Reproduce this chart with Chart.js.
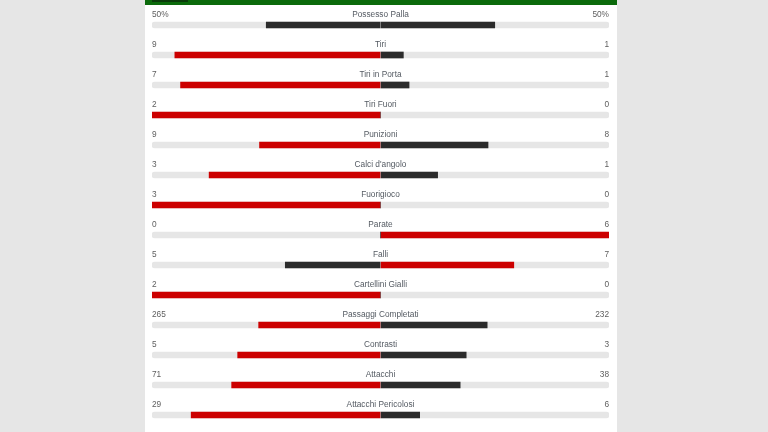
<!DOCTYPE html>
<html>
<head>
<meta charset="utf-8">
<script src="https://cdn.jsdelivr.net/npm/chart.js@4.4.1/dist/chart.umd.min.js"></script>
<style>
  body { margin: 0; background: #e6e6e6; font-family: "Liberation Sans", Arial, sans-serif; }
  #panel { position: absolute; left: 145px; top: 0; width: 472px; height: 432px; background: #fff; }
  #topbar { position: absolute; left: 0; top: 0; width: 472px; height: 5px; background: #0b6a0b; }
  #tab { position: absolute; left: 7px; top: 0; width: 36px; height: 2px; background: #0a3b0a; }
  #wrap { position: absolute; left: 0; top: 0; width: 472px; height: 432px; }
</style>
</head>
<body>
<div id="panel">
  <div id="topbar"><div id="tab"></div></div>
  <div id="wrap"><canvas id="stats"></canvas></div>
</div>
<script>
const categories = ['Possesso Palla', 'Tiri', 'Tiri in Porta', 'Tiri Fuori', 'Punizioni', "Calci d'angolo",
  'Fuorigioco', 'Parate', 'Falli', 'Cartellini Gialli', 'Passaggi Completati', 'Contrasti', 'Attacchi', 'Attacchi Pericolosi'];
const homeValues = [50, 9, 7, 2, 9, 3, 3, 0, 5, 2, 265, 5, 71, 29];
const awayValues = [50, 1, 1, 0, 8, 1, 0, 6, 7, 0, 232, 3, 38, 6];
const units = ['%', '', '', '', '', '', '', '', '', '', '', '', '', ''];

const RED = '#cc0000';
const DARK = '#2b2b2b';

// share of each side, left side goes negative
const homeShare = homeValues.map((h, i) => {
  const tot = h + awayValues[i];
  return tot ? -h / tot : 0;
});
const awayShare = awayValues.map((a, i) => {
  const tot = homeValues[i] + a;
  return tot ? a / tot : 0;
});
const homeColors = homeValues.map((h, i) => h > awayValues[i] ? RED : DARK);
const awayColors = awayValues.map((a, i) => a > homeValues[i] ? RED : DARK);

const textPlugin = {
  id: 'statText',
  afterDatasetsDraw(chart) {
    const { ctx, chartArea, scales } = chart;
    const cx = scales.x.getPixelForValue(0);
    ctx.save();
    ctx.font = '8.3px "Liberation Sans", Arial, sans-serif';
    ctx.textBaseline = 'middle';
    categories.forEach((name, i) => {
      const y = scales.y.getPixelForValue(i) - 10.5;
      ctx.fillStyle = '#5e5e5e';
      ctx.textAlign = 'left';
      ctx.fillText(homeValues[i] + units[i], chartArea.left, y);
      ctx.textAlign = 'right';
      ctx.fillText(awayValues[i] + units[i], chartArea.right, y);
      ctx.fillStyle = '#545a62';
      ctx.textAlign = 'center';
      ctx.fillText(name, cx, y);
    });
    ctx.restore();
  }
};

new Chart(document.getElementById('stats'), {
  type: 'bar',
  data: {
    labels: categories,
    datasets: [
      {
        label: 'home',
        data: homeShare,
        backgroundColor: homeColors,
        barThickness: 6,
        grouped: false,
        order: 1
      },
      {
        label: 'away',
        data: awayShare,
        backgroundColor: awayColors,
        barThickness: 6,
        grouped: false,
        order: 1
      },
      {
        label: 'track',
        data: categories.map(() => [-1, 1]),
        backgroundColor: '#e6e6e6',
        barThickness: 6,
        borderRadius: 3,
        borderSkipped: false,
        grouped: false,
        order: 3
      }
    ]
  },
  options: {
    indexAxis: 'y',
    responsive: true,
    maintainAspectRatio: false,
    animation: false,
    layout: { padding: { left: 7, right: 8, top: 10, bottom: 2 } },
    scales: {
      x: {
        min: -1,
        max: 1,
        z: 1,
        ticks: { display: false, stepSize: 1 },
        border: { display: false },
        grid: {
          drawTicks: false,
          color: (c) => c.tick && c.tick.value === 0 ? '#ffffff' : 'rgba(0,0,0,0)'
        }
      },
      y: {
        display: false
      }
    },
    plugins: {
      legend: { display: false },
      tooltip: { enabled: false }
    }
  },
  plugins: [textPlugin]
});
</script>
</body>
</html>
